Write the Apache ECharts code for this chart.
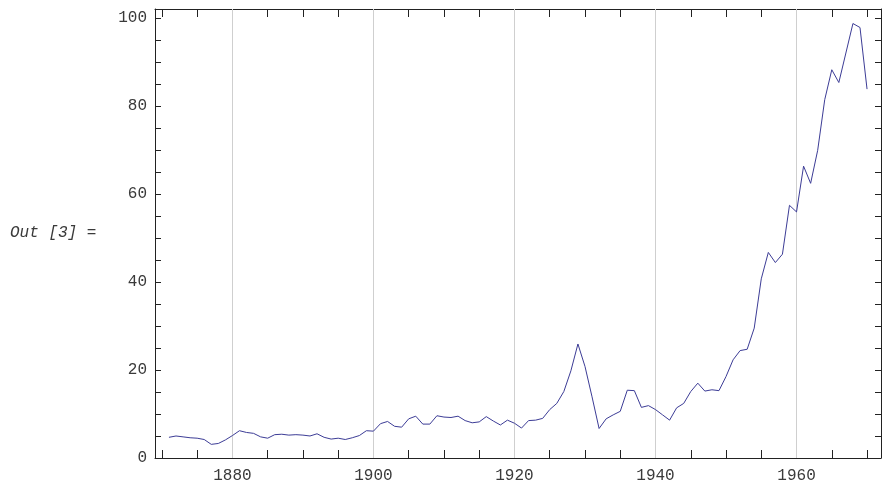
<!DOCTYPE html>
<html>
<head>
<meta charset="utf-8">
<style>
  html, body { margin: 0; padding: 0; background: #fff; }
  #chart { width: 882px; height: 484px; }
</style>
<script src="https://cdn.jsdelivr.net/npm/echarts@6/dist/echarts.min.js"></script>
</head>
<body>
<div id="chart"></div>
<script>
// Annual index values, 1871-1970
const years = [
  1871, 1872, 1873, 1874, 1875, 1876, 1877, 1878, 1879, 1880,
  1881, 1882, 1883, 1884, 1885, 1886, 1887, 1888, 1889, 1890,
  1891, 1892, 1893, 1894, 1895, 1896, 1897, 1898, 1899, 1900,
  1901, 1902, 1903, 1904, 1905, 1906, 1907, 1908, 1909, 1910,
  1911, 1912, 1913, 1914, 1915, 1916, 1917, 1918, 1919, 1920,
  1921, 1922, 1923, 1924, 1925, 1926, 1927, 1928, 1929, 1930,
  1931, 1932, 1933, 1934, 1935, 1936, 1937, 1938, 1939, 1940,
  1941, 1942, 1943, 1944, 1945, 1946, 1947, 1948, 1949, 1950,
  1951, 1952, 1953, 1954, 1955, 1956, 1957, 1958, 1959, 1960,
  1961, 1962, 1963, 1964, 1965, 1966, 1967, 1968, 1969, 1970
];
const values = [
  4.7, 5.0, 4.8, 4.6, 4.5, 4.2, 3.1, 3.3, 4.1, 5.1,
  6.2, 5.8, 5.6, 4.8, 4.5, 5.3, 5.4, 5.2, 5.3, 5.2,
  5.0, 5.5, 4.7, 4.3, 4.5, 4.2, 4.6, 5.1, 6.2, 6.1,
  7.8, 8.3, 7.2, 7.0, 8.9, 9.5, 7.7, 7.7, 9.6, 9.3,
  9.2, 9.5, 8.5, 8.0, 8.2, 9.4, 8.4, 7.5, 8.6, 7.9,
  6.8, 8.5, 8.6, 9.0, 11.0, 12.4, 15.1, 19.8, 25.9, 20.8,
  13.9, 6.7, 8.9, 9.8, 10.6, 15.4, 15.3, 11.5, 11.9, 11.0,
  9.8, 8.6, 11.4, 12.4, 15.1, 17.0, 15.2, 15.5, 15.3, 18.5,
  22.3, 24.4, 24.7, 29.5, 40.7, 46.7, 44.4, 46.3, 57.4, 55.9,
  66.3, 62.4, 69.9, 81.4, 88.2, 85.3, 92.0, 98.7, 97.8, 83.8
];

// Tick positions and labels
const xTicks = [1870, 1875, 1880, 1885, 1890, 1895, 1900, 1905, 1910, 1915, 1920,
  1925, 1930, 1935, 1940, 1945, 1950, 1955, 1960, 1965, 1970];
const xLabels = [1880, 1900, 1920, 1940, 1960];
const xGrid = [1880, 1900, 1920, 1940, 1960];
const yTicks = [0, 5, 10, 15, 20, 25, 30, 35, 40, 45, 50, 55, 60, 65, 70, 75, 80, 85, 90, 95, 100];
const yLabels = [0, 20, 40, 60, 80, 100];
const promptText = 'Out [3] =';

const FONT = '"Liberation Mono", "DejaVu Sans Mono", monospace';
const INK = '#222';
const TEXT = '#3a3a3a';

// Padded plot range around the data
const xMin = 1869.02, xMax = 1971.98;
const yMin = 0, yMax = 102;

function frameX(position, showLabels) {
  return {
    type: 'value', position: position, min: xMin, max: xMax,
    axisLine: { show: true, onZero: false, lineStyle: { color: INK, width: 1 } },
    axisTick: { show: true, inside: true, length: 8, customValues: xTicks,
      lineStyle: { color: INK, width: 1 } },
    axisLabel: { show: showLabels, customValues: xLabels, margin: 10,
      formatter: v => String(v),
      fontFamily: FONT, fontSize: 16, color: TEXT },
    splitLine: { show: false }
  };
}
function frameY(position, showLabels) {
  return {
    type: 'value', position: position, min: yMin, max: yMax,
    axisLine: { show: true, onZero: false, lineStyle: { color: INK, width: 1 } },
    axisTick: { show: true, inside: true, length: 6, customValues: yTicks,
      lineStyle: { color: INK, width: 1 } },
    axisLabel: { show: showLabels, customValues: yLabels, margin: 8,
      formatter: v => String(v),
      fontFamily: FONT, fontSize: 16, color: TEXT },
    splitLine: { show: false }
  };
}

const chart = echarts.init(document.getElementById('chart'), null, { renderer: 'canvas' });
chart.setOption({
  animation: false,
  backgroundColor: '#fff',
  grid: { left: 155, top: 9, width: 726, height: 449, containLabel: false },
  xAxis: [frameX('bottom', true), frameX('top', false)],
  yAxis: [frameY('left', true), frameY('right', false)],
  graphic: [{
    type: 'text', left: 10, top: 225,
    style: { text: promptText, fontFamily: FONT, fontStyle: 'italic',
      fontSize: 16, fill: TEXT }
  }],
  series: [{
    type: 'line',
    xAxisIndex: 0, yAxisIndex: 0,
    data: years.map((y, i) => [y, values[i]]),
    showSymbol: false,
    symbol: 'none',
    lineStyle: { color: '#3c3c96', width: 1 },
    z: 3,
    markLine: {
      silent: true, symbol: 'none', label: { show: false },
      lineStyle: { color: '#cfcfcf', width: 1, type: 'solid' },
      data: xGrid.map(v => ({ xAxis: v })),
      z: 1
    }
  }]
});
</script>
</body>
</html>
